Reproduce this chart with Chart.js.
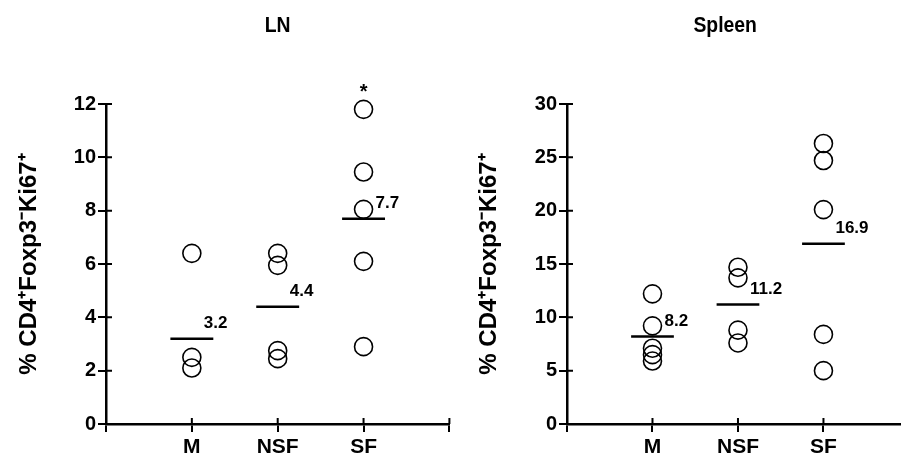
<!DOCTYPE html>
<html>
<head>
<meta charset="utf-8">
<script src="https://cdn.jsdelivr.net/npm/chart.js@4.4.1/dist/chart.umd.min.js"></script>
<style>
  html, body { margin: 0; padding: 0; background: #fff; }
  #wrap { position: relative; width: 911px; height: 465px; }
  .box { position: absolute; top: 0; height: 465px; }
  #lnBox { left: 0; width: 460px; }
  #spBox { left: 460px; width: 451px; }
</style>
</head>
<body>
<div id="wrap">
  <div class="box" id="lnBox"><canvas id="lnChart"></canvas></div>
  <div class="box" id="spBox"><canvas id="spChart"></canvas></div>
</div>
<script>
var categories = ['M', 'NSF', 'SF'];

// LN
var lnM = [6.4, 2.5, 2.1];
var lnNSF = [6.4, 5.95, 2.75, 2.45];
var lnSF = [11.8, 9.45, 8.05, 6.1, 2.9];
var lnMeans = [3.2, 4.4, 7.7];
var lnTicks = [0, 2, 4, 6, 8, 10, 12];

// Spleen
var spM = [12.2, 9.2, 7.1, 6.5, 5.9];
var spNSF = [14.7, 13.7, 8.8, 7.6];
var spSF = [26.3, 24.7, 20.1, 8.4, 5.0];
var spMeans = [8.2, 11.2, 16.9];
var spTicks = [0, 5, 10, 15, 20, 25, 30];

var yTitle = '% CD4\u207AFoxp3\u207BKi67\u207A';
var sans = "'Liberation Sans', Arial, sans-serif";

function makeChart(id, title, titleAt, groups, means, yTicks, xTicks, xMax, axisX, rightPad, starGroup) {
  var pts = [];
  groups.forEach(function (vals, i) {
    vals.forEach(function (v) { pts.push({ x: i + 1, y: v }); });
  });

  var datasets = [{
    type: 'scatter',
    data: pts,
    clip: false,
    pointStyle: 'circle',
    pointRadius: 9,
    pointHoverRadius: 9,
    pointBorderWidth: 1.6,
    borderColor: '#000',
    backgroundColor: 'rgba(0,0,0,0)'
  }];
  means.forEach(function (m, i) {
    datasets.push({
      type: 'line',
      data: [{ x: i + 0.75, y: m }, { x: i + 1.25, y: m }],
      borderColor: '#000',
      borderWidth: 2.5,
      pointRadius: 0,
      fill: false
    });
  });

  // title, mean labels, star and the inner half of the tick marks
  var extras = {
    id: 'extras',
    afterDraw: function (chart) {
      var c = chart.ctx, xs = chart.scales.x, ys = chart.scales.y;
      c.save();
      c.fillStyle = '#000';
      c.strokeStyle = '#000';
      c.lineWidth = 2;

      // condensed bold title
      c.save();
      c.translate(xs.getPixelForValue(titleAt), 32);
      c.scale(0.88, 1);
      c.font = 'bold 22px ' + sans;
      c.textAlign = 'center';
      c.textBaseline = 'alphabetic';
      c.fillText(title, 0, 0);
      c.restore();

      c.font = 'bold 17px ' + sans;
      c.textAlign = 'left';
      c.textBaseline = 'middle';
      means.forEach(function (m, i) {
        c.fillText(m.toFixed(1), xs.getPixelForValue(i + 1) + 12, ys.getPixelForValue(m) - 15);
      });

      if (starGroup !== null) {
        var top = Math.max.apply(null, groups[starGroup]);
        c.font = 'bold 20px ' + sans;
        c.textAlign = 'center';
        c.textBaseline = 'alphabetic';
        c.fillText('*', xs.getPixelForValue(starGroup + 1), ys.getPixelForValue(top) - 11);
      }

      c.beginPath();
      xs.ticks.forEach(function (t) {
        if (t.value === 0) return;
        var px = xs.getPixelForValue(t.value);
        c.moveTo(px, xs.top);
        c.lineTo(px, xs.top - 6);
      });
      ys.ticks.forEach(function (t) {
        var py = ys.getPixelForValue(t.value);
        c.moveTo(ys.right, py);
        c.lineTo(ys.right + 6, py);
      });
      c.stroke();
      c.restore();
    }
  };

  return new Chart(document.getElementById(id), {
    data: { datasets: datasets },
    options: {
      responsive: true,
      maintainAspectRatio: false,
      animation: false,
      events: [],
      layout: { padding: { top: 104, left: 0, right: rightPad, bottom: 0 } },
      plugins: { legend: { display: false }, tooltip: { enabled: false } },
      scales: {
        x: {
          type: 'linear',
          min: 0,
          max: xMax,
          afterBuildTicks: function (s) { s.ticks = xTicks.map(function (v) { return { value: v }; }); },
          afterFit: function (s) { s.height = 41; },
          ticks: {
            color: '#000',
            padding: 3,
            maxRotation: 0,
            autoSkip: false,
            font: { family: sans, size: 21, weight: 'bold' },
            callback: function (v) { return categories[v - 1] || ''; }
          },
          grid: { drawOnChartArea: false, tickLength: 8, color: '#000', lineWidth: 2 },
          border: { color: '#000', width: 2.5 }
        },
        y: {
          type: 'linear',
          min: yTicks[0],
          max: yTicks[yTicks.length - 1],
          afterBuildTicks: function (s) { s.ticks = yTicks.map(function (v) { return { value: v }; }); },
          afterFit: function (s) { s.width = axisX; },
          ticks: {
            color: '#000',
            padding: 2,
            font: { family: sans, size: 20, weight: 'bold' }
          },
          grid: { drawOnChartArea: false, tickLength: 8, color: '#000', lineWidth: 2 },
          border: { color: '#000', width: 2.5 },
          title: {
            display: true,
            text: yTitle,
            color: '#000',
            padding: { top: 15, bottom: 0 },
            font: { family: sans, size: 24, weight: 'bold' }
          }
        }
      }
    },
    plugins: [extras]
  });
}

makeChart('lnChart', 'LN', 2, [lnM, lnNSF, lnSF], lnMeans, lnTicks, [0, 1, 2, 3, 4], 4, 106, 8, 2);
makeChart('spChart', 'Spleen', 1.85, [spM, spNSF, spSF], spMeans, spTicks, [0, 1, 2, 3], 3.9, 107, 4, null);
</script>
</body>
</html>
